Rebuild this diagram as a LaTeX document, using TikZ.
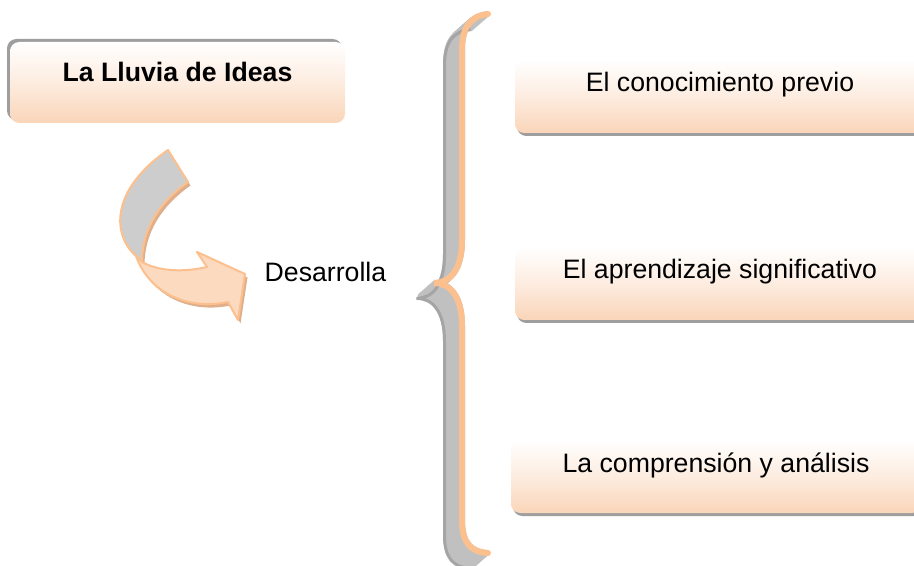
\documentclass[tikz,border=0pt]{standalone}
\usepackage{fontspec}
\setmainfont{Liberation Sans}
\usetikzlibrary{shadows,positioning}
\tikzset{>=stealth}
\definecolor{peach}{RGB}{250,213,185}
\definecolor{bracecol}{RGB}{251,192,142}
\definecolor{bracegray}{RGB}{192,192,192}
\definecolor{bracedark}{RGB}{165,165,165}
\definecolor{boxshadow}{RGB}{158,158,158}
\definecolor{arrowback}{RGB}{205,205,205}
\definecolor{arrowfront}{RGB}{252,218,192}
\definecolor{arrowedge}{RGB}{222,175,138}
\tikzset{
  ideabox/.style={rounded corners=7pt, top color=white, bottom color=peach, middle color=peach!45,
    minimum width=251.25pt, inner ysep=0pt, text height=30pt, text depth=30.75pt,
    font=\fontsize{20}{24}\selectfont\bfseries,
    drop shadow={shadow xshift=-2.25pt, shadow yshift=2.25pt, fill=boxshadow, opacity=1}},
  itembox/.style={rounded corners=7pt, top color=white, bottom color=peach, middle color=peach!45,
    minimum width=307.5pt, inner ysep=0pt, text height=24pt, text depth=30.75pt,
    drop shadow={shadow xshift=1.5pt, shadow yshift=-2.25pt, fill=boxshadow, opacity=1}}
}
\newcommand{\bracepath}{(488,14) .. controls (470,16) and (462,28) .. (462,50) -- (462,240)
  .. controls (462,270) and (450,283) .. (434,283) .. controls (450,283) and (462,296) .. (462,326)
  -- (462,520) .. controls (462,542) and (470,552) .. (488,553)}
\newcommand{\arrowback}{(168,150) -- (188,182) .. controls (160,202) and (142,228) .. (142,262)
  -- (136,256) .. controls (112,235) and (110,190) .. (168,150) -- cycle}
\newcommand{\arrowfront}{(136,256) -- (142,262) .. controls (160,272) and (185,272) .. (207,267)
  -- (197,252) -- (245,274) -- (238,320) -- (228,302) .. controls (190,310) and (150,295) .. (136,256) -- cycle}

\begin{document}
\begin{tikzpicture}[x=0.75pt,y=-0.75pt,every node/.style={font=\fontsize{20}{24}\selectfont}]
  \clip (0,0) rectangle (914,566);
  % boxes
  \node[ideabox] (lluvia) at (177.5,82.5) {La Lluvia de Ideas};
  \node[itembox] (previo) at (720,96.5) {El conocimiento previo};
  \node[itembox] (significativo) at (720,283.5) {El aprendizaje significativo};
  \node[itembox] (analisis) at (716,476.5) {La comprensión y análisis};
  % curved arrow
  \fill[arrowedge, shift={(2.5,3.5)}] \arrowback;
  \fill[arrowedge, shift={(2.5,3.5)}] \arrowfront;
  \draw[bracecol, line width=1.5pt, line join=round, fill=arrowback] \arrowback;
  \draw[bracecol, line width=1.5pt, line join=round, fill=arrowfront] \arrowfront;
  \node[anchor=base west] (desarrolla) at (260,282) {Desarrolla};
  % brace
  \foreach \t in {0,1,...,16}
    \draw[bracegray, line width=4.5pt, shift={(-\t,0.875*\t)}] \bracepath;
  \draw[bracedark, line width=2.25pt, shift={(-17.5,15.3)}] \bracepath;
  \draw[bracecol, line width=4.5pt, line cap=round] \bracepath;
\end{tikzpicture}
\end{document}
